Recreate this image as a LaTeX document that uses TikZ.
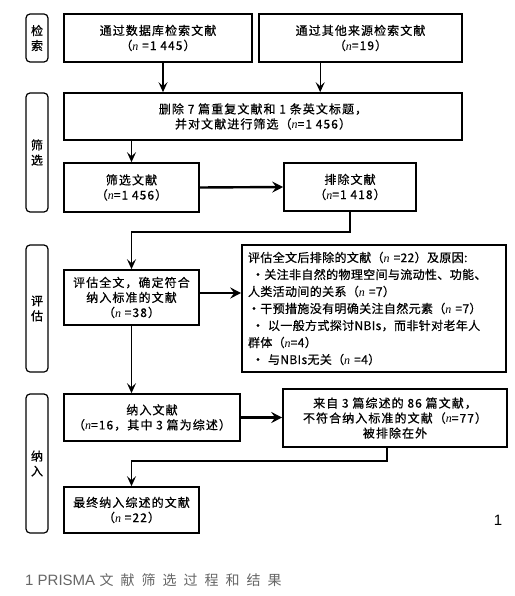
\documentclass[tikz,border=0pt]{standalone}
\usepackage{fontspec}
\setmainfont{Noto Sans CJK SC}[LetterSpace=9, FakeBold=0.6]
\newfontfamily\tightfont{Noto Sans CJK SC}[LetterSpace=3, FakeBold=0.6]
\newfontfamily\nfont{Liberation Serif}
\newfontfamily\capfont{Noto Sans CJK SC}[LetterSpace=50]
\newfontfamily\latcap{Liberation Sans}
\usetikzlibrary{arrows.meta}
\newcommand\nn{{\nfont\itshape n}}
\begin{document}
\begin{tikzpicture}[x=1pt,y=-1pt,
  box/.style={draw, line width=1.6pt, inner sep=2pt, align=center,
    font=\fontsize{12pt}{15pt}\selectfont},
  side/.style={draw, line width=1.2pt, rounded corners=4pt, align=center,
    minimum width=22pt, inner sep=1pt, font=\fontsize{12pt}{15pt}\selectfont},
  arr/.style={line width=1.4pt, -{Stealth[length=10pt,width=9pt,inset=4pt]}},
  harr/.style={line width=2.4pt, -{Stealth[length=11pt,width=11pt,inset=4pt]}},
  ]
\useasboundingbox[fill=white] (0,0) rectangle (514,596);

% side labels
\node[side, minimum height=48pt]  (L1) at (37,38)    {检\\索};
\node[side, minimum height=119pt] (L2) at (37,152.5) {筛\\选};
\node[side, minimum height=127pt] (L3) at (37,308.5) {评\\估};
\node[side, minimum height=139pt] (L4) at (37,463.5) {纳\\入};

% boxes
\node[box, minimum width=188pt, minimum height=48pt] (B1) at (158,38)
  {通过数据库检索文献\\（\nn{} =1 445）};
\node[box, minimum width=203pt, minimum height=48pt] (B2) at (360.5,38)
  {通过其他来源检索文献\\（\nn{}=19）};
\node[box, minimum width=398pt, minimum height=47pt] (B3) at (263,116.5)
  {删除 7 篇重复文献和 1 条英文标题，\\并对文献进行筛选（\nn{}=1 456）};
\node[box, minimum width=135pt, minimum height=49pt] (B4) at (131.5,187.5)
  {筛选文献\\（\nn{}=1 456）};
\node[box, minimum width=132pt, minimum height=48pt] (B5) at (350,187)
  {排除文献\\（\nn{}=1 418）};
\node[box, minimum width=135pt, minimum height=55pt] (B6) at (131.5,297.5)
  {评估全文，确定符合\\纳入标准的文献\\（\nn{} =38）};
\node[draw, line width=1.6pt, inner sep=6pt, text width=252pt, align=left,
  minimum height=127pt, font=\tightfont\fontsize{12pt}{17pt}\selectfont] (B7) at (374,308.5)
  {评估全文后排除的文献（\nn{} =22）及原因:\\
   \ ·关注非自然的物理空间与流动性、功能、\\
   人类活动间的关系（\nn{} =7）\\
   ·干预措施没有明确关注自然元素（\nn{} =7）\\
   \ · 以一般方式探讨NBIs，而非针对老年人\\
   群体（\nn{}=4）\\
   \ · 与NBIs无关（\nn{} =4）};
\node[box, minimum width=176pt, minimum height=47pt] (B8) at (152,417.5)
  {纳入文献\\（\nn{}=16，其中 3 篇为综述）};
\node[box, minimum width=224pt, minimum height=58pt] (B9) at (395,418)
  {来自 3 篇综述的 86 篇文献，\\不符合纳入标准的文献（\nn{}=77）\\被排除在外};
\node[box, minimum width=135pt, minimum height=46pt] (B10) at (131.5,510)
  {最终纳入综述的文献\\（\nn{} =22）};

% connectors
\draw[arr] ([xshift=5pt]B1.south) -- ([xshift=5pt]B1.south |- B3.north);
\draw[arr] ([xshift=62pt]B2.south west) -- ([xshift=62pt]B2.south west |- B3.north);
\draw[arr] (B3.south -| B4.north) -- (B4.north);
\draw[harr] (B4.east) -- (B5.west);
\draw[arr] (B5.south) -- ++(0,20) -| (B6.north);
\draw[harr] ([yshift=4.5pt]B6.east) coordinate (t1) -- (t1 -| B7.west);
\draw[arr] (B6.south) -- (B6.south |- B8.north);
\draw[harr] (B8.east) -- (B8.east -| B9.west);
\draw[arr] ([xshift=-8pt]B9.south) -- ++(0,13) -| (B10.north);

% labels
\node[font=\latcap\fontsize{15pt}{17pt}\selectfont] (one) at (498,520) {1};
\node[anchor=west, text=black!60, inner sep=0pt,
  font=\fontsize{14pt}{16pt}\selectfont] (cap) at (25,580)
  {{\latcap\fontsize{15pt}{17pt}\selectfont 1 PRISMA} {\capfont 文献筛选过程和结果}};
\end{tikzpicture}
\end{document}
